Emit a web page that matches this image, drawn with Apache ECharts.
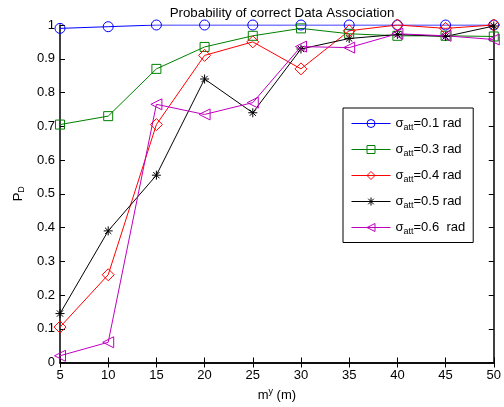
<!DOCTYPE html>
<html>
<head>
<meta charset="utf-8">
<script src="https://cdn.jsdelivr.net/npm/echarts@6/dist/echarts.min.js"></script>
<style>
  html, body { margin: 0; padding: 0; background: #fff; }
  #chart { width: 504px; height: 407px; }
</style>
</head>
<body>
<div id="chart"></div>
<script>
// Distance along y (m)
const distances = [5, 10, 15, 20, 25, 30, 35, 40, 45, 50];
const xTicks = [5, 10, 15, 20, 25, 30, 35, 40, 45, 50];
const yTicks = [0, 0.1, 0.2, 0.3, 0.4, 0.5, 0.6, 0.7, 0.8, 0.9, 1];

// Probability of correct association for each attitude noise level
const pd01 = [0.99, 0.995, 1.0, 1.0, 1.0, 1.0, 1.0, 1.0, 1.0, 1.0];
const pd03 = [0.705, 0.73, 0.87, 0.935, 0.968, 0.99, 0.974, 0.968, 0.968, 0.966];
const pd04 = [0.105, 0.26, 0.705, 0.91, 0.95, 0.87, 0.983, 1.0, 0.99, 1.0];
const pd05 = [0.145, 0.39, 0.555, 0.84, 0.74, 0.929, 0.96, 0.972, 0.966, 0.997];
const pd06 = [0.02, 0.06, 0.765, 0.735, 0.77, 0.936, 0.933, 0.974, 0.968, 0.957];

const seriesNames = ['0.1 rad', '0.3 rad', '0.4 rad', '0.5 rad', '0.6  rad'];

const FONT = 'Liberation Sans, Arial, sans-serif';

const SYM_ASTERISK = 'path://M5,0 L5,10 M0,5 L10,5 M1.5,1.5 L8.5,8.5 M8.5,1.5 L1.5,8.5';
const SYM_TRI_LEFT = 'path://M0,5 L10,0 L10,10 Z';
const SYM_SQUARE = 'path://M0,0 L10,0 L10,10 L0,10 Z';

function makeSeries(name, data, color, symbol, size) {
  return {
    name: name,
    type: 'line',
    data: distances.map((d, i) => [d, data[i]]),
    symbol: symbol,
    symbolSize: size,
    showAllSymbol: true,
    lineStyle: { color: color, width: 1 },
    itemStyle: { color: 'rgba(0,0,0,0)', borderColor: color, borderWidth: 1 },
    emphasis: { disabled: true },
    animation: false,
    z: 3
  };
}

const chart = echarts.init(document.getElementById('chart'), null, { renderer: 'canvas' });

const axisLineStyle = { color: '#000', width: 1.5 };

chart.setOption({
  backgroundColor: '#fff',
  animation: false,
  title: {
    text: 'Probability of correct Data Association',
    left: 277, top: 2, textAlign: 'center',
    textStyle: { fontFamily: FONT, fontSize: 13.3, fontWeight: 'normal', color: '#000' }
  },
  grid: { left: 60, right: 10, top: 25, bottom: 44 },
  legend: {
    orient: 'vertical',
    left: 343, top: 108,
    width: 131,
    padding: [9, 8, 6, 8],
    itemGap: 10.5,
    itemWidth: 39, itemHeight: 10,
    borderColor: '#000', borderWidth: 1,
    backgroundColor: '#fff',
    selectedMode: false,
    lineStyle: { width: 1 },
    itemStyle: { color: 'rgba(0,0,0,0)', borderWidth: 1 },
    formatter: function (name) {
      return '{s|σ}{sub|att}{s|=' + name + '}';
    },
    textStyle: {
      fontFamily: FONT, color: '#000', fontSize: 13,
      rich: {
        s: { fontFamily: FONT, fontSize: 13, color: '#000' },
        sub: { fontFamily: FONT, fontSize: 9, color: '#000', padding: [9, 0, 0, 0] }
      }
    },
    data: seriesNames
  },
  xAxis: [{
    type: 'value', min: 5, max: 50, interval: 5,
    name: 'm{sup|y} (m)', nameLocation: 'middle', nameGap: 25,
    nameTextStyle: {
      fontFamily: FONT, fontSize: 13, color: '#000',
      rich: { sup: { fontFamily: FONT, fontSize: 9, color: '#000', padding: [0, 0, 7, 0] } }
    },
    axisLine: { lineStyle: axisLineStyle },
    axisTick: { inside: true, length: 5, lineStyle: { color: '#000' } },
    axisLabel: { fontFamily: FONT, fontSize: 13, color: '#000', margin: 6,
      formatter: v => xTicks.includes(v) ? String(v) : '' },
    splitLine: { show: false }
  }, {
    type: 'value', min: 5, max: 50, interval: 5, position: 'top',
    axisLine: { lineStyle: axisLineStyle },
    axisTick: { inside: true, length: 5, lineStyle: { color: '#000' } },
    axisLabel: { show: false }, splitLine: { show: false }
  }],
  yAxis: [{
    type: 'value', min: 0, max: 1, interval: 0.1,
    name: 'P{sub|D}', nameLocation: 'middle', nameGap: 34, nameRotate: 90,
    nameTextStyle: {
      fontFamily: FONT, fontSize: 13, color: '#000',
      rich: { sub: { fontFamily: FONT, fontSize: 9, color: '#000', padding: [7, 0, 0, 0] } }
    },
    axisLine: { lineStyle: axisLineStyle },
    axisTick: { inside: true, length: 5, lineStyle: { color: '#000' } },
    axisLabel: { fontFamily: FONT, fontSize: 13, color: '#000', margin: 5,
      formatter: v => {
        const t = yTicks.find(y => Math.abs(y - v) < 1e-9);
        return t === undefined ? '' : String(t);
      } },
    splitLine: { show: false }
  }, {
    type: 'value', min: 0, max: 1, interval: 0.1, position: 'right',
    axisLine: { lineStyle: axisLineStyle },
    axisTick: { inside: true, length: 5, lineStyle: { color: '#000' } },
    axisLabel: { show: false }, splitLine: { show: false }
  }],
  series: [
    makeSeries(seriesNames[0], pd01, '#0000ff', 'circle', 10),
    makeSeries(seriesNames[1], pd03, '#008000', SYM_SQUARE, 9),
    makeSeries(seriesNames[2], pd04, '#ff0000', 'diamond', 12),
    makeSeries(seriesNames[3], pd05, '#000000', SYM_ASTERISK, 9),
    makeSeries(seriesNames[4], pd06, '#bf00bf', SYM_TRI_LEFT, 11)
  ]
});
</script>
</body>
</html>
